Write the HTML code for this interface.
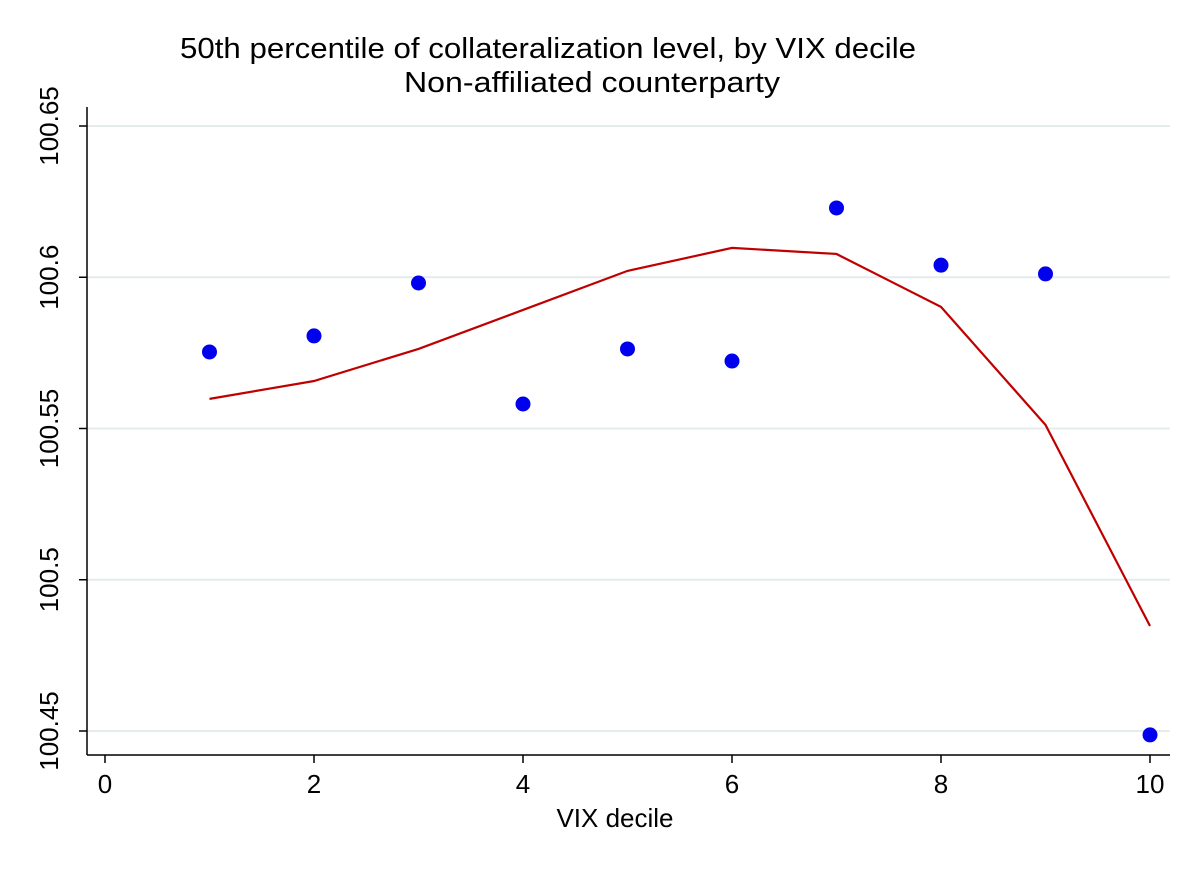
<!DOCTYPE html>
<html><head><meta charset="utf-8"><style>
body{margin:0;background:#fff;}
svg{display:block;font-family:"Liberation Sans",sans-serif;}
</style></head><body>
<svg id="chart" width="1200" height="873" viewBox="0 0 1200 873">
<rect width="1200" height="873" fill="#fff"/>
<text x="548" y="58" font-size="29" textLength="736" lengthAdjust="spacingAndGlyphs" text-anchor="middle" fill="#000">50th percentile of collateralization level, by VIX decile</text>
<text x="592" y="92" font-size="29" textLength="376" lengthAdjust="spacingAndGlyphs" text-anchor="middle" fill="#000">Non-affiliated counterparty</text>
<g id="grid"></g><g id="axes"></g><g id="marks"></g>
<text x="615" y="827" font-size="26" text-anchor="middle" fill="#000">VIX decile</text>
</svg>
<script>
const deciles=[1,2,3,4,5,6,7,8,9,10];
const pointValues=[100.5753,100.5806,100.5981,100.5581,100.5763,100.5723,100.6229,100.604,100.6011,100.4487];
const fitValues=[100.5598,100.5657,100.5763,100.5892,100.6021,100.6097,100.6077,100.5902,100.5512,100.4847];
const xTicks=[0,2,4,6,8,10];
const yTicks=[100.45,100.5,100.55,100.6,100.65];
const yTickLabels=["100.45","100.5","100.55","100.6","100.65"];
const NS="http://www.w3.org/2000/svg";
const X=v=>105+v*104.5;
const Y=v=>731-(v-100.45)*3025;
function mk(tag,attrs,parent){const e=document.createElementNS(NS,tag);for(const k in attrs)e.setAttribute(k,attrs[k]);document.getElementById(parent).appendChild(e);return e;}
const L=87,R=1170,T=107,B=755;
yTicks.forEach((t,i)=>{
 const g=mk('line',{x1:L,x2:R,y1:Y(t),y2:Y(t),stroke:'#e4ecee','stroke-width':2},'grid');
 
 
 const tk=mk('line',{x1:L-8,x2:L,y1:Y(t),y2:Y(t),stroke:'#000','stroke-width':1.5},'axes');
 
 
 const tx=mk('text',{x:0,y:0,'font-size':26,'text-anchor':'middle',fill:'#000',transform:`translate(58,${Y(t)}) rotate(-90)`},'axes');
 tx.textContent=yTickLabels[i];
 
 
});
xTicks.forEach(t=>{
 const tk=mk('line',{x1:X(t),x2:X(t),y1:B,y2:B+8,stroke:'#000','stroke-width':1.5},'axes');
 
 
 const tx=mk('text',{x:X(t),y:B+38,'font-size':26,'text-anchor':'middle',fill:'#000'},'axes');
 tx.textContent=t;
 
 
});
const ya=mk('line',{x1:L,x2:L,y1:T,y2:B,stroke:'#000','stroke-width':1.5},'axes');


const xa=mk('line',{x1:L,x2:R,y1:B,y2:B,stroke:'#000','stroke-width':1.5},'axes');


const pl=mk('polyline',{points:deciles.map((d,i)=>X(d)+','+Y(fitValues[i])).join(' '),fill:'none',stroke:'#c00000','stroke-width':2.2},'marks');


deciles.forEach((d,i)=>{
 const c=mk('circle',{cx:X(d),cy:Y(pointValues[i]),r:7.5,fill:'#0000ee'},'marks');
 
 
});
</script>
</body></html>
